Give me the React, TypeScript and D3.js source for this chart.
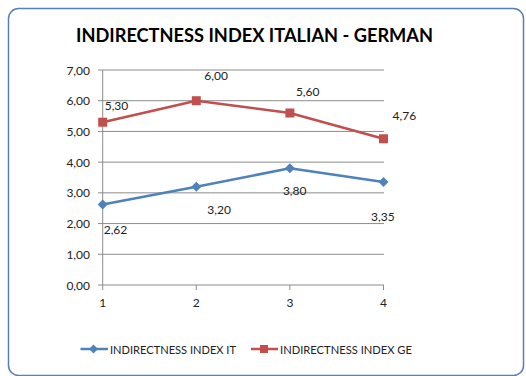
import React from "react";
import * as d3 from "d3";

const categories = [1, 2, 3, 4];
const seriesIT = [2.62, 3.2, 3.8, 3.35];
const seriesGE = [5.3, 6.0, 5.6, 4.76];
const yTicks = [0, 1, 2, 3, 4, 5, 6, 7];
const seriesNames = ["INDIRECTNESS INDEX IT", "INDIRECTNESS INDEX GE"];
const title = "INDIRECTNESS INDEX ITALIAN - GERMAN";
// manual label offsets (dx, dy) relative to the data point, as in the original
const labelOffsetsIT: [number, number][] = [[1, 25], [11, 22.5], [-7, 22.5], [-12.5, 34.5]];
const labelOffsetsGE: [number, number][] = [[2, -16.5], [8, -25], [6, -21.5], [9, -23.5]];

const W = 526, H = 376;
const fmt = (v: number) => v.toFixed(2).replace(".", ",");
const FONT = "Lato, 'Open Sans', sans-serif";
const BLUE = "#4F81BD";
const RED = "#C0504D";
const GRID = "#8c8c8c";

export default function App() {
  const x = d3.scalePoint<number>().domain(categories).range([102.7, 383.5]);
  const y = d3.scaleLinear().domain([0, 7]).range([285, 70]);
  const line = d3.line<number>().x((_, i) => x(categories[i])!).y((d) => y(d));

  const diamond = (cx: number, cy: number, r: number) =>
    `M${cx},${cy - r}L${cx + r},${cy}L${cx},${cy + r}L${cx - r},${cy}Z`;

  return (
    <svg width={W} height={H} style={{ position: "absolute", left: 0, top: 0 }} fontFamily={FONT}>
      <rect x={0} y={0} width={W} height={H} fill="#fff" />
      <rect x={8.5} y={8.5} width={515} height={367} rx={10} ry={10} fill="#fff" stroke="#5a7fb6" strokeWidth={1.5} />
      <text x={76} y={42} fontSize={19} fontWeight="bold" fill="#000" textLength={357} lengthAdjust="spacingAndGlyphs">
        {title}
      </text>
      {/* gridlines */}
      {yTicks.map((t) => (
        <g key={t}>
          <line x1={98} x2={384} y1={y(t)} y2={y(t)} stroke={GRID} strokeWidth={1} />
          <text x={90} y={y(t)} textAnchor="end" dominantBaseline="central" fontSize={12} fill="#222">
            {fmt(t)}
          </text>
        </g>
      ))}
      {/* y axis */}
      <line x1={x(1)} x2={x(1)} y1={y(7)} y2={y(0)} stroke={GRID} strokeWidth={1} />
      {/* x ticks */}
      {categories.map((c) => (
        <g key={c}>
          <line x1={x(c)} x2={x(c)} y1={y(0)} y2={y(0) + 5} stroke={GRID} strokeWidth={1} />
          <text x={x(c)} y={302} textAnchor="middle" dominantBaseline="central" fontSize={12} fill="#222">
            {c}
          </text>
        </g>
      ))}
      {/* series lines */}
      <path d={line(seriesIT)!} fill="none" stroke={BLUE} strokeWidth={2.5} strokeLinejoin="round" />
      <path d={line(seriesGE)!} fill="none" stroke={RED} strokeWidth={2.5} strokeLinejoin="round" />
      {seriesIT.map((v, i) => (
        <path key={"it" + i} d={diamond(x(categories[i])!, y(v), 5)} fill={BLUE} />
      ))}
      {seriesGE.map((v, i) => (
        <rect key={"ge" + i} x={x(categories[i])! - 4.5} y={y(v) - 4.5} width={9} height={9} fill={RED} />
      ))}
      {/* data labels */}
      {seriesIT.map((v, i) => (
        <text key={"lit" + i} x={x(categories[i])! + labelOffsetsIT[i][0]} y={y(v) + labelOffsetsIT[i][1]}
          dominantBaseline="central" fontSize={12} fill="#222">
          {fmt(v)}
        </text>
      ))}
      {seriesGE.map((v, i) => (
        <text key={"lge" + i} x={x(categories[i])! + labelOffsetsGE[i][0]} y={y(v) + labelOffsetsGE[i][1]}
          dominantBaseline="central" fontSize={12} fill="#222">
          {fmt(v)}
        </text>
      ))}
      {/* legend */}
      <g>
        <line x1={80.5} x2={108} y1={349} y2={349} stroke={BLUE} strokeWidth={2.5} />
        <path d={diamond(93.5, 349, 4.5)} fill={BLUE} />
        <text x={110} y={349} dominantBaseline="central" fontSize={11.5} fill="#222" textLength={126} lengthAdjust="spacingAndGlyphs">
          {seriesNames[0]}
        </text>
        <line x1={251} x2={278} y1={349} y2={349} stroke={RED} strokeWidth={2.5} />
        <rect x={260} y={345} width={8} height={8} fill={RED} />
        <text x={280} y={349} dominantBaseline="central" fontSize={11.5} fill="#222" textLength={132} lengthAdjust="spacingAndGlyphs">
          {seriesNames[1]}
        </text>
      </g>
    </svg>
  );
}
